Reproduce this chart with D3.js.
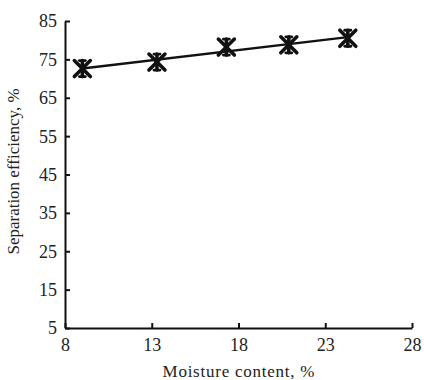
<!DOCTYPE html>
<html>
<head>
<meta charset="utf-8">
<script src="https://cdn.jsdelivr.net/npm/d3@7"></script>
<style>
  body { margin: 0; background: #fff; }
  svg { display: block; font-family: "Liberation Serif", "DejaVu Serif", serif; }
</style>
</head>
<body>
<div id="chart"></div>
<script>
// data
const moisture = [9.0, 13.3, 17.3, 20.9, 24.3];
const efficiency = [72.6, 74.3, 78.2, 78.8, 80.5];
const xTicks = [8, 13, 18, 23, 28];
const yTicks = [5, 15, 25, 35, 45, 55, 65, 75, 85];

const width = 424, height = 380;
const margin = { top: 21, right: 12, bottom: 52, left: 65 };

const svg = d3.select("#chart").append("svg")
  .attr("width", width)
  .attr("height", height);

const x = d3.scaleLinear().domain([8, 28]).range([margin.left, width - margin.right]);
const y = d3.scaleLinear().domain([5, 85]).range([height - margin.bottom, margin.top]);

// axes, ticks pointing inward
const xAxis = svg.append("g")
  .attr("transform", `translate(0,${y(5)})`)
  .call(d3.axisBottom(x).tickValues(xTicks).tickSizeInner(-5).tickSizeOuter(0).tickPadding(10));

const yAxis = svg.append("g")
  .attr("transform", `translate(${x(8)},0)`)
  .call(d3.axisLeft(y).tickValues(yTicks).tickSizeInner(-5).tickSizeOuter(0).tickPadding(8));

[xAxis, yAxis].forEach(g => {
  g.select(".domain").attr("stroke", "#111").attr("stroke-width", 2);
  g.selectAll(".tick line").attr("stroke", "#111").attr("stroke-width", 2);
  g.selectAll(".tick text").attr("fill", "#222").style("font-size", "18px")
    .style("font-family", "Liberation Serif, serif");
});
yAxis.selectAll(".tick text").attr("dy", "0.33em");

// least squares trend line
const pts = moisture.map((m, i) => [m, efficiency[i]]);
const mx = d3.mean(moisture), my = d3.mean(efficiency);
const slope = d3.sum(pts, p => (p[0] - mx) * (p[1] - my)) / d3.sum(pts, p => (p[0] - mx) ** 2);
const icpt = my - slope * mx;
const ends = d3.extent(moisture);

svg.append("line")
  .attr("x1", x(ends[0])).attr("y1", y(icpt + slope * ends[0]))
  .attr("x2", x(ends[1])).attr("y2", y(icpt + slope * ends[1]))
  .attr("stroke", "#111").attr("stroke-width", 2.4);

// asterisk markers
const s = 8;
const mk = svg.append("g").selectAll("g")
  .data(pts)
  .enter().append("g")
  .attr("transform", d => `translate(${x(d[0])},${y(d[1])})`)
  .attr("stroke", "#111").attr("stroke-width", 3.6).attr("stroke-linecap", "round");
mk.append("line").attr("x1", -s).attr("y1", -s).attr("x2", s).attr("y2", s);
mk.append("line").attr("x1", -s).attr("y1", s).attr("x2", s).attr("y2", -s);
mk.append("line").attr("x1", 0).attr("y1", -s).attr("x2", 0).attr("y2", s);
mk.append("line").attr("x1", -3).attr("y1", -s).attr("x2", 3).attr("y2", -s).attr("stroke-width", 2.8);
mk.append("line").attr("x1", -3).attr("y1", s).attr("x2", 3).attr("y2", s).attr("stroke-width", 2.8);

// axis titles
svg.append("text")
  .attr("text-anchor", "middle")
  .attr("x", (x(8) + x(28)) / 2)
  .attr("y", 377)
  .attr("fill", "#222")
  .style("font-size", "17px")
  .attr("textLength", 152)
  .text("Moisture content, %");

svg.append("text")
  .attr("text-anchor", "middle")
  .attr("transform", `translate(19,${(y(5) + y(85)) / 2 - 3}) rotate(-90)`)
  .attr("fill", "#222")
  .style("font-size", "17px")
  .text("Separation efficiency, %");
</script>
</body>
</html>
